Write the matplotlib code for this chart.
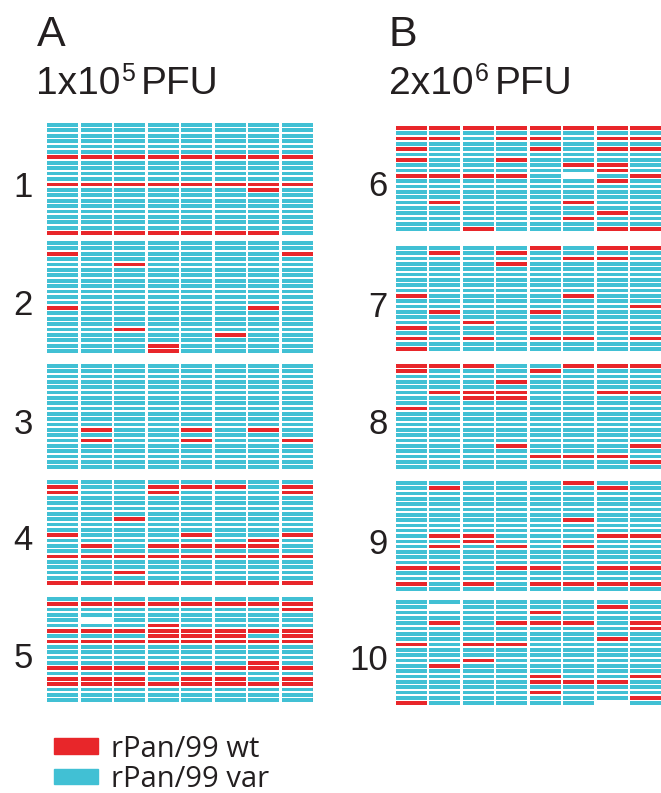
import matplotlib
matplotlib.use("Agg")
import matplotlib.pyplot as plt
from matplotlib.patches import Patch

plt.rcParams['font.family'] = ['Liberation Sans', 'DejaVu Sans']

RED = '#e8262a'
BLUE = '#41c0d4'
INK = '#231f20'
W, H = 661, 793

# each panel: 8 clones (columns) x N sequenced positions (rows)
# r = rPan/99 wt, b = rPan/99 var, . = no data; rows not listed are all var
ROW = 'bbbbbbbb'

panel_1 = (21, {6: 'rrrrrrrr', 11: 'rrrrrrrr', 12: 'bbbbbbrb', 20: 'rrrrrrrb'})
panel_2 = (21, {2: 'rbbbbbbr', 4: 'bbrbbbbb', 12: 'rbbbbbrb', 16: 'bbrbbbbb',
                17: 'bbbbbrbb', 19: 'bbbrbbbb', 20: 'bbbrbbbb'})
panel_3 = (20, {12: 'brbbrbrb', 14: 'brbbrbbr'})
panel_4 = (20, {1: 'rbbrrrbr', 2: 'rbbrbbbr', 7: 'bbrbbbbb', 10: 'rbbbrbbr',
                11: 'bbbbbbrb', 12: 'brbrrrrb', 14: 'rrrrrrrr', 17: 'bbrbbbbb',
                19: 'rrrrrrrr'})
panel_5 = (20, {1: 'rrrrrrrr', 2: 'bbbbbbbr', 4: 'b.bbbbbb', 5: 'bbbrbbbb',
                6: 'rrrrrrrr', 7: 'bbbrrrbr', 8: 'rrrrrrrr', 12: 'bbbbbbrb',
                13: 'rrrrrrrr', 15: 'rrrbrrbr', 16: 'rrrrrrrr'})
panel_6 = (20, {0: 'rrrrrrrr', 2: 'rrbrrbrr', 4: 'rbbbrbrr', 6: 'rbbrbbbb',
                7: 'bbbbbrrb', 8: 'bbbbbbrb', 9: 'rrrrb.br', 10: 'bbbbbbrb',
                14: 'brbbbrbb', 16: 'bbbbbbrb', 17: 'bbbbbrbb', 19: 'bbrbbbrr'})
panel_7 = (20, {0: 'bbbbrbrr', 1: 'brbrbbbb', 2: 'bbbbbrrb', 3: 'bbbrbbbb',
                9: 'rbbbbrbb', 11: 'bbbbbbbr', 12: 'brbbrbbb', 14: 'bbrbbbbb',
                15: 'rbbbbbbb', 17: 'rbrbrrbr', 19: 'rbbbbbbb'})
panel_8 = (20, {0: 'rrrbbrrr', 1: 'rbbbrbbb', 3: 'bbbrbbbb', 5: 'brrrbbrr',
                6: 'bbrrbbbb', 8: 'rbbbbbbb', 15: 'bbbrbbbr', 17: 'bbbbrrrb',
                18: 'bbbbbbbr'})
panel_9 = (21, {0: 'bbbbbrbb', 1: 'brbbbbrb', 7: 'bbbbbrbb', 10: 'brrbbbrr',
                11: 'bbrbbbbb', 12: 'brbrbrbb', 16: 'rrbrrbrr', 19: 'rbrbrrrr'})
panel_10 = (20, {1: 'b.bbbbrb', 2: 'bbbbrbbb', 4: 'brbrrrbr', 5: 'bbbbbbbr',
                 7: 'bbbbbbrb', 8: 'rbrrbbbb', 11: 'bbrbbbbb', 12: 'brbbbbbb',
                 14: 'bbbbrbbr', 15: 'bbbbrrrb', 17: 'bbbbrbbb', 18: 'bbbbbbbr',
                 19: 'rbbbbb.b'})

panel_labels = ['1', '2', '3', '4', '5', '6', '7', '8', '9', '10']
panels = [panel_1, panel_2, panel_3, panel_4, panel_5,
          panel_6, panel_7, panel_8, panel_9, panel_10]

# pixel boxes (x0, y0, x1, y1) of each panel in the figure
boxes = [(47, 123, 313, 235), (47, 241, 313, 353), (47, 364, 313, 469),
         (47, 480, 313, 585), (47, 597, 313, 702),
         (396, 126, 661, 231), (396, 246, 661, 351), (396, 364, 661, 469),
         (396, 481, 661, 591), (396, 600, 661, 705)]

bar_h = 0.68
bar_w = 0.93

fig = plt.figure(figsize=(W / 100, H / 100), dpi=100)

for i, ((nrows, reds), box) in enumerate(zip(panels, boxes)):
    x0, y0, x1, y1 = box
    ax = fig.add_axes([x0 / W, 1 - y1 / H, (x1 - x0) / W, (y1 - y0) / H])
    ys, xs, cols = [], [], []
    for r in range(nrows):
        pattern = reds.get(r, ROW)
        for c, ch in enumerate(pattern):
            if ch == '.':
                continue
            ys.append(r)
            xs.append(c)
            cols.append(RED if ch == 'r' else BLUE)
    ax.barh(ys, [bar_w] * len(ys), left=[x - bar_w / 2 for x in xs],
            height=bar_h, color=cols, linewidth=0)
    ax.set_xlim(-bar_w / 2, 7 + bar_w / 2)
    ax.set_ylim(nrows - 1 + bar_h / 2, -bar_h / 2)
    ax.axis('off')

    # panel number
    cy = (y0 + y1) / 2 + 6
    lx = 33 if i < 5 else 388
    fig.text(lx / W, 1 - (cy + 12) / H, panel_labels[i], fontsize=25,
             ha='right', va='baseline', color=INK)

# small stray edge line seen in the original figure
fig.axes[4].axvline(7 + bar_w / 2, color='#555555', lw=0.8)

# headers
fig.text(37 / W, 1 - 46 / H, 'A', fontsize=31, color=INK)
fig.text(389 / W, 1 - 46 / H, 'B', fontsize=31, color=INK)

renderer = fig.canvas.get_renderer()


def dose_label(x, y, base, exp):
    # "1x10" + small raised exponent + "PFU"
    t = fig.text(x / W, 1 - y / H, base, fontsize=28, color=INK)
    bb = t.get_window_extent(renderer)
    s = fig.text((bb.x1 + 1) / W, 1 - (y - 13) / H, exp, fontsize=18, color=INK)
    bb2 = s.get_window_extent(renderer)
    fig.text((bb2.x1 + 6) / W, 1 - y / H, 'PFU', fontsize=28, color=INK)


dose_label(36, 94, '1x10', '5')
dose_label(389, 94, '2x10', '6')

# legend
handles = [Patch(color=RED, label='rPan/99 wt'),
           Patch(color=BLUE, label='rPan/99 var')]
leg = fig.legend(handles=handles, loc='lower left',
                 bbox_to_anchor=(35 / W, -20 / H), frameon=False,
                 prop={'family': 'Open Sans', 'size': 21},
                 handlelength=1.5, handleheight=0.45, handletextpad=0.45,
                 labelspacing=0.05, borderpad=0.15)
for t in leg.get_texts():
    t.set_color(INK)

fig.savefig('out.png', dpi=100)
